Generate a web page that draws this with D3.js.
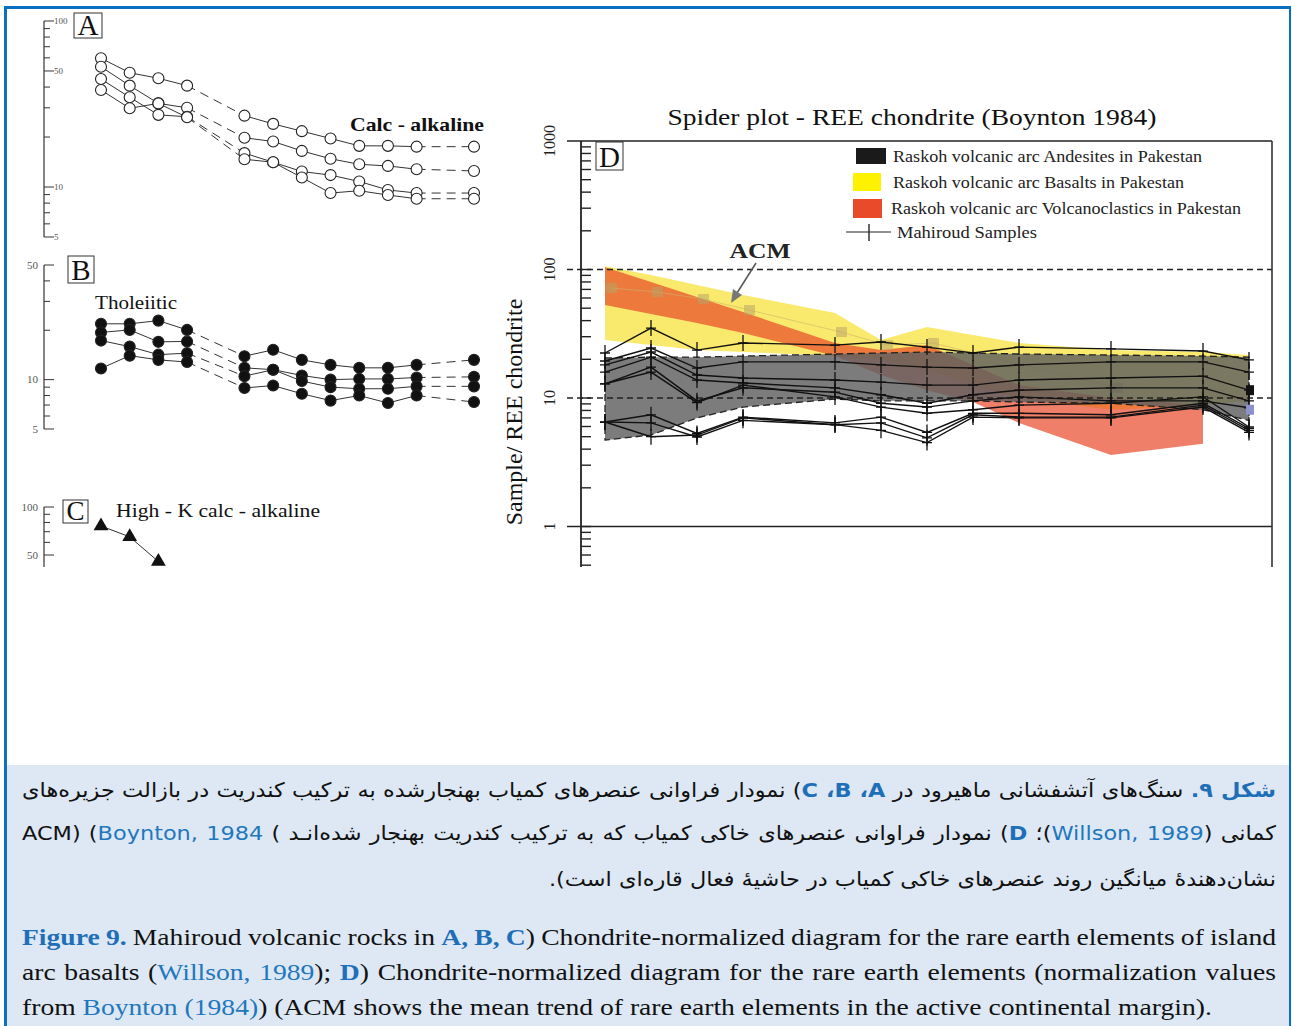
<!DOCTYPE html>
<html>
<head>
<meta charset="utf-8">
<script src="https://cdn.jsdelivr.net/npm/d3@7"></script>
<style>
  body { margin: 0; background: #fff; }
  #page { position: relative; width: 1292px; height: 1026px; overflow: hidden; }
  svg text { font-family: "Liberation Serif", "Times New Roman", serif; }
  .bar { position: absolute; background: #0a70c2; }
  #cap { position: absolute; left: 7px; top: 765px; width: 1282px; height: 261px; background: #dde8f4; }
  .fa { position: absolute; left: 15px; direction: rtl; font-family: "DejaVu Sans", sans-serif;
        font-size: 20px; line-height: 40px; color: #111; white-space: nowrap; transform-origin: 0 0; }
  .en { position: absolute; left: 15px; font-family: "Liberation Serif", "Times New Roman", serif;
        font-size: 23px; line-height: 35px; color: #111; white-space: nowrap; transform-origin: 0 0; }
  .blue { color: #1f77bd; }
  .bb { color: #1f6fb8; font-weight: bold; }
  .ltr { direction: ltr; unicode-bidi: isolate; }
</style>
</head>
<body>
<div id="page">
  <svg id="fig" width="1292" height="765" style="position:absolute;left:0;top:0"></svg>
  <div class="bar" style="left:4px;top:6px;width:3px;height:1020px"></div>
  <div class="bar" style="left:4px;top:6px;width:1287px;height:3px"></div>
  <div class="bar" style="left:1289px;top:6px;width:2px;height:1020px"></div>
  <div id="cap">
    <div class="fa" data-j="1" style="top:5px"><span class="bb">شکل ۹.</span> سنگ‌های آتشفشانی ماهیرود در <span class="bb">A،&#x200F; B،&#x200F; C</span>) نمودار فراوانی عنصرهای کمیاب بهنجارشده به ترکیب کندریت در بازالت جزیره‌های</div>
    <div class="fa" data-j="1" style="top:48px">کمانی (<span class="blue">Willson, 1989</span>)؛ <span class="bb">D</span>) نمودار فراوانی عنصرهای خاکی کمیاب که به ترکیب کندریت بهنجار شده‌انـد <span class="ltr">ACM) (<span class="blue">Boynton, 1984</span> (</span></div>
    <div class="fa" data-j="0" style="top:94px;text-align:right">نشان‌دهندهٔ میانگین روند عنصرهای خاکی کمیاب در حاشیهٔ فعال قاره‌ای است).</div>
    <div class="en" data-j="1" style="top:155px"><span class="bb">Figure 9.</span> Mahiroud volcanic rocks in <span class="bb">A, B, C</span>) Chondrite-normalized diagram for the rare earth elements of island</div>
    <div class="en" data-j="1" style="top:190px">arc basalts (<span class="blue">Willson, 1989</span>); <span class="bb">D</span>) Chondrite-normalized diagram for the rare earth elements (normalization values</div>
    <div class="en" data-j="0" style="top:225px">from <span class="blue">Boynton (1984)</span>) (ACM shows the mean trend of rare earth elements in the active continental margin).</div>
  </div>
</div>
<script>
// ---- panels A, B, C (Willson 1989) ----
const wil = ["La","Ce","Pr","Nd","Pm","Sm","Eu","Gd","Tb","Dy","Ho","Er","Tm","Yb"];

const calc1 = [59.6, 48.8, 45.2, 40.8, null, 26.9, 24.0, 21.7, 19.6, 17.7, 17.7, 17.5, null, 17.5];
const calc2 = [53.0, 40.8, 31.9, 30.0, null, 19.8, 18.8, 16.5, 14.8, 13.7, 13.4, 12.8, null, 12.5];
const calc3 = [44.7, 34.7, 27.2, 26.5, null, 16.0, 14.1, 12.4, 11.8, 10.8, 9.6, 9.2, null, 9.2];
const calc4 = [38.4, 29.8, 31.9, 26.3, null, 14.7, 14.1, 11.4, 9.2, 9.5, 8.95, 8.5, null, 8.5];

const thol1 = [21.9, 21.9, 22.9, 20.1, null, 13.9, 15.2, 13.2, 12.3, 11.8, 11.8, 12.3, null, 13.2];
const thol2 = [19.4, 20.1, 17.0, 17.1, null, 11.8, 11.5, 10.6, 10.0, 10.1, 10.1, 10.3, null, 10.4];
const thol3 = [17.3, 15.9, 14.2, 14.5, null, 10.5, 11.5, 9.8, 9.0, 8.8, 8.8, 9.1, null, 9.1];
const thol4 = [11.7, 14.0, 13.2, 12.8, null, 8.9, 9.2, 8.2, 7.45, 8.0, 7.2, 8.0, null, 7.3];

const highKElems = ["La","Ce","Pr"];
const highK = [76, 65, 45.5];

const ticksA = [5,6,7,8,9,10,20,30,40,50,60,70,80,90,100];
const labelsA = [5,10,50,100];
const ticksB = [5,6,7,8,9,10,20,30,40,50];
const labelsB = [5,10,50];
const ticksC = [50,60,70,80,90,100];
const labelsC = [50,100];

// ---- panel D (Boynton 1984) ----
const ree = ["La","Ce","Pr","Nd","Pm","Sm","Eu","Gd","Tb","Dy","Ho","Er","Tm","Yb","Lu"];

const samples = [
  [22.4, 35.0, 23.6, 26.8, null, 25.8, 27.3, 24.9, 22.4, 24.9, null, 24.1, null, 23.2, 19.8],
  [19.4, 24.5, 17.1, 19.1, null, 19.1, 18.1, 17.4, 17.1, 18.1, null, 19.1, null, 19.1, 15.9],
  [18.1, 22.8, 15.1, 14.3, null, 13.8, 13.3, 12.6, 12.6, 13.8, null, 14.3, null, 14.8, 11.5],
  [15.9, 20.8, 13.8, 13.1, null, 12.0, 10.6, 9.1, 10.6, 11.5, null, 12.0, null, 12.0, 9.5],
  [12.9, 17.4, 9.5, 12.0, null, 11.1, 9.1, 8.5, 9.5, 10.2, null, 9.5, null, 9.5, 8.4],
  [12.9, 15.9, 9.2, 12.6, null, 10.2, 8.5, 7.6, 8.1, 8.8, null, 9.1, null, 10.2, 5.95],
  [6.5, 7.4, 5.3, 7.1, null, 6.4, 7.1, 5.4, 7.6, 7.6, null, 7.4, null, 9.1, 5.8],
  [6.5, 5.0, 5.15, 7.0, null, 6.2, 6.4, 4.9, 7.4, 7.1, null, 7.1, null, 8.8, 5.6],
  [6.5, 6.4, 4.97, 6.7, null, 6.2, 5.6, 4.5, 7.1, 7.0, null, 7.0, null, 8.5, 5.4]
];

const andesiteHi = [20.5, 20.8, 20.8, 21.2, null, 22.0, 22.4, 22.8, 22.4, 22.0, null, 21.6, null, 21.2, 20.8];
const andesiteLo = [4.7, 5.15, 7.0, 8.5, null, 9.8, 9.5, 9.5, 9.5, 9.3, null, 9.1, null, 8.1, 6.7];
const basaltHi = [106, 90.6, 75.7, 63.3, null, 45.9, 28.3, 35.7, 30.9, 26.8, null, 23.6, null, 22.8, 21.6];
const basaltLo = [28.3, 25.8, 23.6, 22.8, null, 21.2, 19.8, 16.5, 12.6, 10.0, null, 8.1, null, 8.8, 9.5];
const clasticHi = [104, 80, 61, 46.7, null, 26.8, 23.6, 25.8, 18.1, 12.6, null, 10.0, null, 8.8, null];
const clasticLo = [52.9, 45, 38.3, 32.1, null, 21.2, 15.1, 11.5, 9.3, 6.4, null, 3.6, null, 4.4, null];
const acm = [71.8, 66.8, 58.9, 48.4, null, 32.6, 25.8, 26.8, null, null, null, 12.0, null, null, null];
const luMarks = [11.5, 8.1];
const luMarkColors = ["#111", "#8c93cc"];

const ticksD = [];
[0.1, 1, 10, 100].forEach(k => { for (let m = 1; m < 10; m++) ticksD.push(m * k); });
const majorD = [1, 10, 100, 1000];
const legendItems = [
  "Raskoh volcanic arc Andesites in Pakestan",
  "Raskoh volcanic arc Basalts in Pakestan",
  "Raskoh volcanic arc Volcanoclastics in Pakestan",
  "Mahiroud Samples"
];
const legendWidths = [309, 291, 350, 140];

const svg = d3.select("#fig");

// ---------- helpers ----------
function boxLetter(g, x, y, w, h, letter, size) {
  g.append("rect").attr("x", x).attr("y", y).attr("width", w).attr("height", h)
    .attr("fill", "none").attr("stroke", "#333").attr("stroke-width", 1);
  g.append("text").attr("x", x + w / 2).attr("y", y + h - 3).attr("text-anchor", "middle")
    .style("font-size", size + "px").attr("fill", "#111").text(letter);
}

function smallAxis(g, yScale, ticks, labels, labelSide) {
  const [y0, y1] = yScale.range();
  g.append("line").attr("x1", 44).attr("x2", 44).attr("y1", y0).attr("y2", y1)
    .attr("stroke", "#333").attr("stroke-width", 1.2);
  g.selectAll(".tk").data(ticks).enter().append("line")
    .attr("x1", 44).attr("x2", d => labels.includes(d) ? 54 : 50)
    .attr("y1", d => yScale(d)).attr("y2", d => yScale(d))
    .attr("stroke", "#333").attr("stroke-width", 1);
  g.selectAll(".lb").data(labels).enter().append("text")
    .attr("x", labelSide === "right" ? 54 : 38)
    .attr("y", d => yScale(d)).attr("dy", "0.35em")
    .attr("text-anchor", labelSide === "right" ? "start" : "end")
    .style("font-size", labelSide === "right" ? "9px" : "11px")
    .attr("fill", "#555").text(d => d);
}

function spider(g, xScale, yScale, series, marker) {
  const lineGen = d3.line().x(d => xScale(d.e)).y(d => yScale(d.v));
  series.forEach(vals => {
    const pts = wil.map((e, i) => ({ e, i, v: vals[i] })).filter(d => d.v != null);
    for (let k = 1; k < pts.length; k++) {
      const gap = pts[k].i - pts[k - 1].i > 1;
      g.append("path").attr("d", lineGen([pts[k - 1], pts[k]]))
        .attr("fill", "none").attr("stroke", "#333").attr("stroke-width", 1)
        .attr("stroke-dasharray", gap ? "9,6" : null);
    }
    g.selectAll(null).data(pts).enter().append("circle")
      .attr("cx", d => xScale(d.e)).attr("cy", d => yScale(d.v)).attr("r", 5.5)
      .attr("fill", marker === "open" ? "#fff" : "#111")
      .attr("stroke", "#222").attr("stroke-width", 1.1);
  });
}

// ---------- panel A ----------
const xL = d3.scalePoint().domain(wil).range([101, 474]);
const yA = d3.scaleLog().domain([5, 100]).range([237, 21]);
const gA = svg.append("g");
smallAxis(gA, yA, ticksA, labelsA, "right");
boxLetter(gA, 74, 13, 28, 25, "A", 29);
spider(gA, xL, yA, [calc1, calc2, calc3, calc4], "open");
gA.append("text").attr("x", 350).attr("y", 131).style("font-size", "19px").style("font-weight", "bold")
  .attr("textLength", 134).attr("lengthAdjust", "spacingAndGlyphs")
  .attr("fill", "#111").text("Calc - alkaline");

// ---------- panel B ----------
const yB = d3.scaleLog().domain([5, 50]).range([429, 265]);
const gB = svg.append("g");
smallAxis(gB, yB, ticksB, labelsB, "left");
boxLetter(gB, 68, 256, 26, 27, "B", 29);
gB.append("text").attr("x", 95).attr("y", 309).style("font-size", "19.5px").attr("fill", "#111")
  .attr("textLength", 82).attr("lengthAdjust", "spacingAndGlyphs").text("Tholeiitic");
spider(gB, xL, yB, [thol1, thol2, thol3, thol4], "filled");

// ---------- panel C ----------
const yC = d3.scaleLog().domain([42.05, 100]).range([567, 507]);
svg.append("clipPath").attr("id", "clipC").append("rect").attr("x", 0).attr("y", 490).attr("width", 500).attr("height", 77);
const gC = svg.append("g").attr("clip-path", "url(#clipC)");
smallAxis(gC, yC, ticksC, labelsC, "left");
boxLetter(gC, 63, 500, 25, 23, "C", 27);
gC.append("text").attr("x", 116).attr("y", 517).style("font-size", "19.5px").attr("fill", "#111")
  .attr("textLength", 204).attr("lengthAdjust", "spacingAndGlyphs").text("High - K calc - alkaline");
const hk = highKElems.map((e, i) => ({ e, v: highK[i] }));
gC.append("path").datum(hk).attr("d", d3.line().x(d => xL(d.e)).y(d => yC(d.v)))
  .attr("fill", "none").attr("stroke", "#333").attr("stroke-width", 1);
gC.selectAll(null).data(hk).enter().append("path")
  .attr("d", d3.symbol(d3.symbolTriangle, 95))
  .attr("transform", d => `translate(${xL(d.e)},${yC(d.v)})`).attr("fill", "#111");

// ---------- panel D ----------
const xD = d3.scalePoint().domain(ree).range([605, 1249]);
const yD = d3.scaleLog().domain([0.484, 1000]).range([567, 141]);
const gD = svg.append("g");

gD.append("text").attr("x", 912).attr("y", 125).attr("text-anchor", "middle")
  .style("font-size", "23px").attr("fill", "#111")
  .attr("textLength", 489).attr("lengthAdjust", "spacingAndGlyphs")
  .text("Spider plot - REE chondrite (Boynton 1984)");
gD.append("text").attr("transform", "translate(522,412) rotate(-90)").attr("text-anchor", "middle")
  .style("font-size", "24px").attr("fill", "#111").text("Sample/ REE chondrite");

function bandPath(lo, hi, fill, op, dashed) {
  const pts = ree.map((e, i) => ({ e, lo: lo[i], hi: hi[i] })).filter(d => d.lo != null && d.hi != null);
  gD.append("path").datum(pts)
    .attr("d", d3.area().x(d => xD(d.e)).y0(d => yD(d.lo)).y1(d => yD(d.hi)))
    .attr("fill", fill).attr("fill-opacity", op)
    .attr("stroke", dashed ? "#222" : "none").attr("stroke-width", 1.3)
    .attr("stroke-dasharray", dashed ? "7,4" : null);
}
bandPath(basaltLo, basaltHi, "#f7e548", 0.8, false);
bandPath(clasticLo, clasticHi, "#e8482a", 0.7, false);

// ACM mean trend
const acmPts = ree.map((e, i) => ({ e, v: acm[i] })).filter(d => d.v != null);
gD.append("path").datum(acmPts).attr("d", d3.line().x(d => xD(d.e) + 6).y(d => yD(d.v)))
  .attr("fill", "none").attr("stroke", "#c9b46a").attr("stroke-width", 1).attr("opacity", 0.6);
gD.selectAll(".acm").data(acmPts).enter().append("rect")
  .attr("x", d => xD(d.e) + 1).attr("y", d => yD(d.v) - 5).attr("width", 11).attr("height", 10)
  .attr("fill", "#b9a466").attr("opacity", 0.55);

bandPath(andesiteLo, andesiteHi, "#5f5f5f", 0.82, true);

// reference lines and frame
majorD.forEach(v => {
  gD.append("line").attr("x1", 567).attr("x2", 1272).attr("y1", yD(v)).attr("y2", yD(v))
    .attr("stroke", "#222").attr("stroke-width", v === 10 || v === 100 ? 1.3 : 1.6)
    .attr("stroke-dasharray", v === 10 || v === 100 ? "6,4" : null);
});
gD.append("line").attr("x1", 1272).attr("x2", 1272).attr("y1", 141).attr("y2", 567)
  .attr("stroke", "#333").attr("stroke-width", 1.6);
gD.append("line").attr("x1", 581).attr("x2", 581).attr("y1", 141).attr("y2", 567)
  .attr("stroke", "#222").attr("stroke-width", 1.8);
gD.selectAll(".mt").data(ticksD.filter(d => d >= 0.484)).enter().append("line")
  .attr("x1", 581).attr("x2", 591).attr("y1", d => yD(d)).attr("y2", d => yD(d))
  .attr("stroke", "#222").attr("stroke-width", 1.4);
gD.selectAll(".ml").data(majorD).enter().append("text")
  .attr("transform", d => `translate(555,${yD(d)}) rotate(-90)`).attr("text-anchor", "middle")
  .style("font-size", "16px").attr("fill", "#222").text(d => d);

// Mahiroud samples
const lineD = d3.line().x(d => xD(d.e)).y(d => yD(d.v));
samples.forEach(vals => {
  const pts = ree.map((e, i) => ({ e, v: vals[i] })).filter(d => d.v != null);
  gD.append("path").datum(pts).attr("d", lineD)
    .attr("fill", "none").attr("stroke", "#111").attr("stroke-width", 1.4);
  gD.selectAll(null).data(pts).enter().append("path")
    .attr("d", "M-5,0H5M0,-8V8")
    .attr("transform", d => `translate(${xD(d.e)},${yD(d.v)})`)
    .attr("stroke", "#111").attr("stroke-width", 1.3);
});
gD.selectAll(".lu").data(luMarks).enter().append("rect")
  .attr("x", xD("Lu") - 3).attr("y", d => yD(d) - 5).attr("width", 8).attr("height", 10)
  .attr("fill", (d, i) => luMarkColors[i]);

// ACM annotation
gD.append("text").attr("x", 760).attr("y", 258).attr("text-anchor", "middle")
  .style("font-size", "22px").style("font-weight", "bold").attr("fill", "#222")
  .attr("textLength", 61).attr("lengthAdjust", "spacingAndGlyphs").text("ACM");
gD.append("line").attr("x1", 756).attr("y1", 263).attr("x2", 737).attr("y2", 293)
  .attr("stroke", "#555").attr("stroke-width", 1.5);
gD.append("path").attr("d", "M731,303 L733,289 L742,295 Z").attr("fill", "#777");

// D letter
boxLetter(gD, 596, 142, 27, 28, "D", 29);

// legend
const legY = [156, 182, 208, 232];
gD.append("rect").attr("x", 856).attr("y", 148).attr("width", 30).attr("height", 16).attr("fill", "#1a1a1a");
gD.append("rect").attr("x", 853).attr("y", 173).attr("width", 28).attr("height", 18).attr("fill", "#fff200");
gD.append("rect").attr("x", 853).attr("y", 199).attr("width", 29).attr("height", 19).attr("fill", "#e84a2a");
gD.append("line").attr("x1", 846).attr("x2", 891).attr("y1", 232).attr("y2", 232).attr("stroke", "#222").attr("stroke-width", 1.2);
gD.append("line").attr("x1", 869).attr("x2", 869).attr("y1", 224).attr("y2", 241).attr("stroke", "#222").attr("stroke-width", 1.4);
gD.selectAll(".lg").data(legendItems).enter().append("text")
  .attr("x", (d, i) => [893, 893, 891, 897][i]).attr("y", (d, i) => legY[i]).attr("dy", "0.35em")
  .attr("textLength", (d, i) => legendWidths[i]).attr("lengthAdjust", "spacingAndGlyphs")
  .style("font-size", "16px").attr("fill", "#222").text(d => d);

// ---------- caption lines: stretch like the source figure, justify by word spacing ----------
function fitLine(el, scale) {
  const W = 1254 / scale;
  el.style.width = W + "px";
  if (el.dataset.j === "1") {
    const r = document.createRange();
    r.selectNodeContents(el);
    const natural = r.getBoundingClientRect().width;
    const spaces = (el.textContent.match(/ /g) || []).length;
    if (spaces) el.style.wordSpacing = ((W - natural) / spaces) + "px";
  }
  el.style.transform = `scaleX(${scale})`;
}
document.querySelectorAll(".fa").forEach(el => fitLine(el, 1.12));
document.querySelectorAll(".en").forEach(el => fitLine(el, 1.2));
</script>
</body>
</html>
